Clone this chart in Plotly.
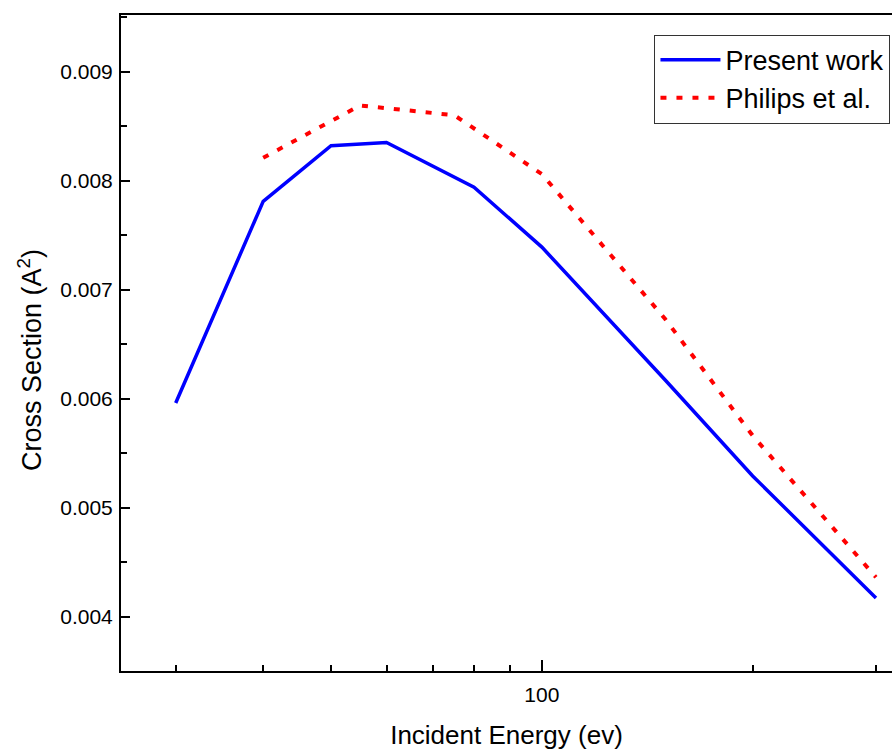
import plotly.graph_objects as go

# Present work
energy_present = [30, 40, 50, 60, 80, 100, 150, 200, 300]
cs_present = [0.00596, 0.00781, 0.00832, 0.00835, 0.00794, 0.00739, 0.00617, 0.00529, 0.00417]

# Philips et al.
energy_philips = [40, 55, 75, 100, 150, 200, 300]
cs_philips = [0.00821, 0.00869, 0.00860, 0.00806, 0.00673, 0.00566, 0.00436]

x_minor_ticks = [30, 40, 50, 60, 70, 80, 90, 200, 300]
x_major_ticks = [100]
x_major_labels = ["100"]

FONT = "Arial, Liberation Sans, sans-serif"

fig = go.Figure()
fig.add_trace(go.Scatter(
    x=energy_present, y=cs_present, mode="lines", name="Present work",
    line=dict(color="#0000FF", width=3.5),
))
fig.add_trace(go.Scatter(
    x=energy_philips, y=cs_philips, mode="lines", name="Philips et al.",
    line=dict(color="#FF0000", width=4, dash="6px,10px"),
))

fig.update_layout(
    width=892, height=754,
    margin=dict(l=121, r=0, t=15, b=83),
    paper_bgcolor="white", plot_bgcolor="white",
    font=dict(family=FONT, color="black", size=21),
    showlegend=True,
    legend=dict(
        x=0.998, y=0.97, xanchor="right", yanchor="top",
        bordercolor="#333333", borderwidth=1, bgcolor="white",
        font=dict(size=27, family=FONT),
        tracegroupgap=0, itemwidth=60,
    ),
    xaxis=dict(
        type="log", range=[1.399, 2.5],
        tickmode="array", tickvals=x_major_ticks, ticktext=x_major_labels,
        ticks="inside", ticklen=11, tickwidth=2, tickcolor="black",
        minor=dict(tickmode="array", tickvals=x_minor_ticks, ticks="inside",
                   ticklen=6, tickwidth=2, tickcolor="black"),
        showline=True, linecolor="black", linewidth=2, mirror=True,
        showgrid=False, zeroline=False,
        tickfont=dict(size=21),
        ticklabelstandoff=4,
        title=dict(text="Incident Energy (ev)", font=dict(size=26), standoff=21),
    ),
    yaxis=dict(
        range=[0.0035, 0.00952],
        tickmode="linear", tick0=0.004, dtick=0.001, tickformat=".3f",
        ticks="inside", ticklen=9, tickwidth=2, tickcolor="black",
        minor=dict(dtick=0.0005, ticks="inside", ticklen=6, tickwidth=2, tickcolor="black"),
        showline=True, linecolor="black", linewidth=2,
        showgrid=False, zeroline=False,
        tickfont=dict(size=21),
        ticklabelstandoff=2,
    ),
    annotations=[dict(
        text="Cross Section (A<sup>2</sup>)", textangle=-90,
        xref="paper", yref="paper", x=-0.118, y=0.474,
        xanchor="center", yanchor="middle", showarrow=False,
        font=dict(size=27, family=FONT, color="black"),
    )],
)

fig.write_html("out.html")
